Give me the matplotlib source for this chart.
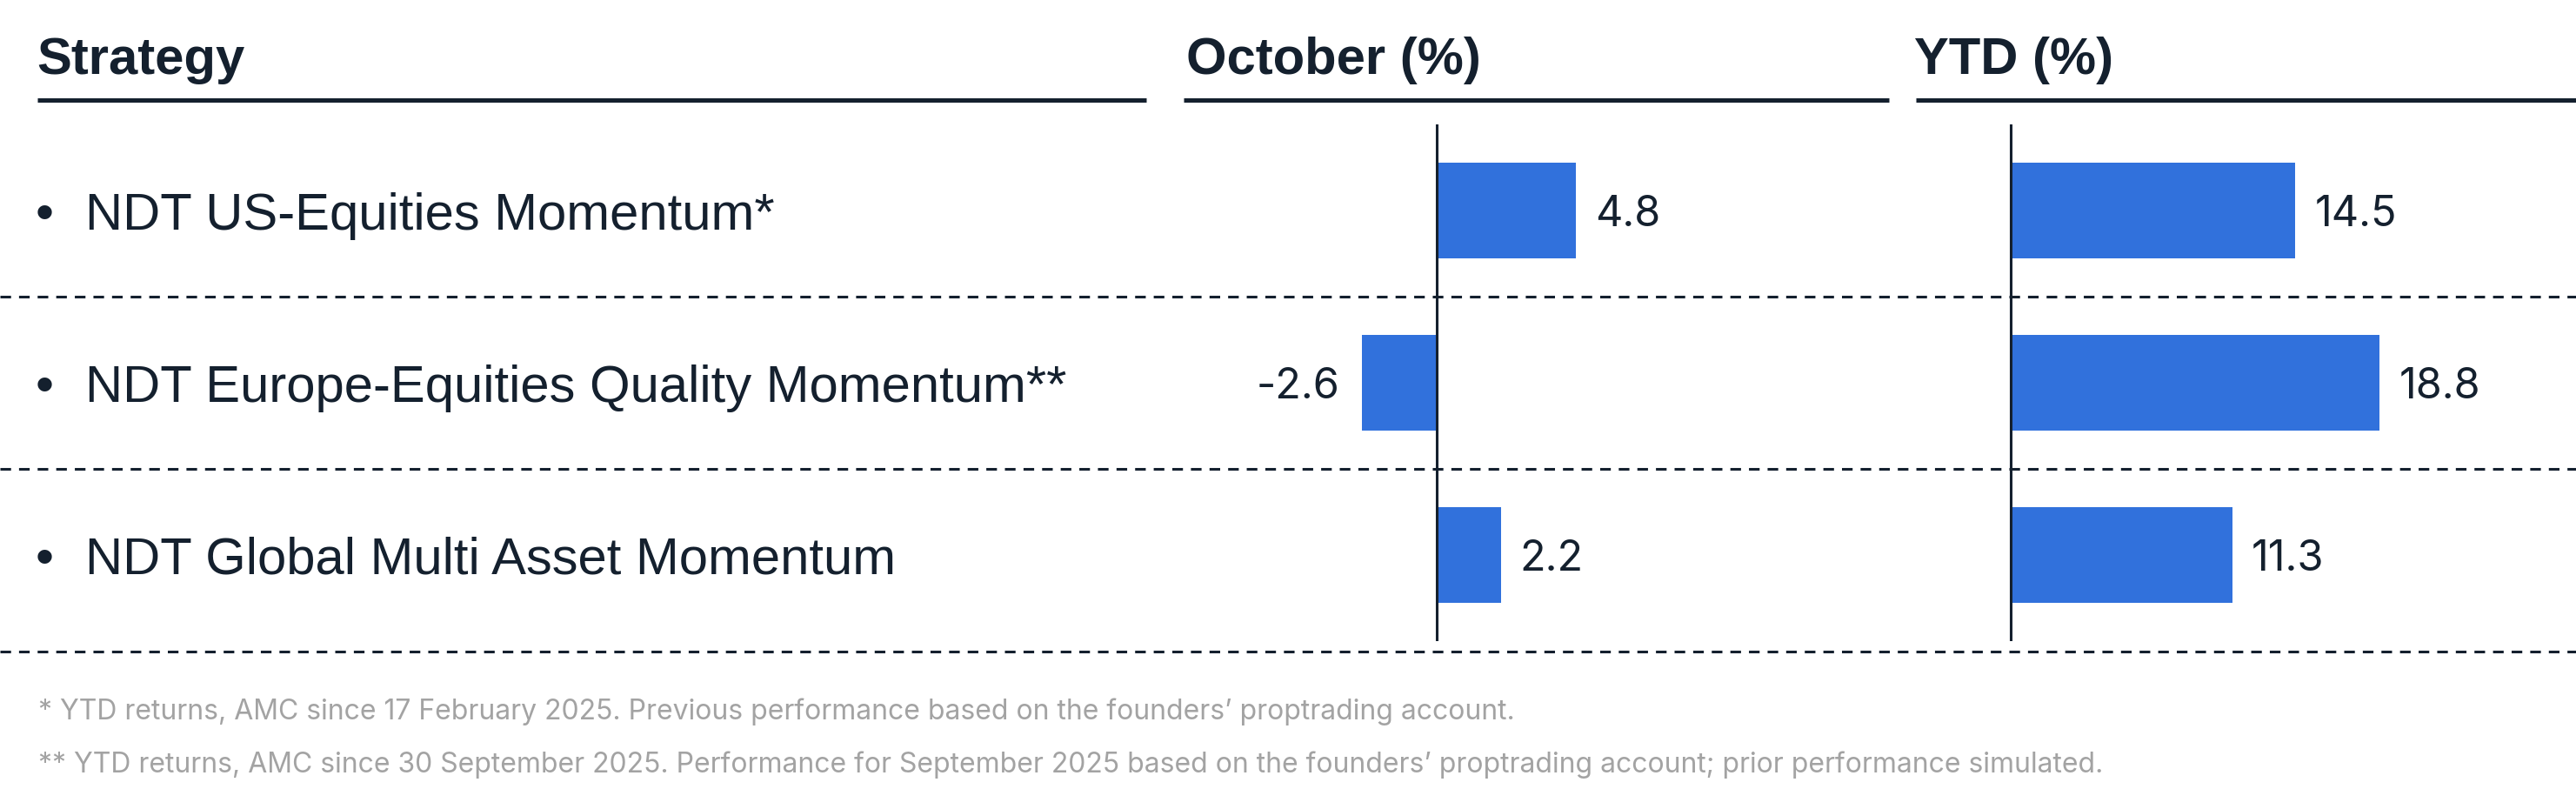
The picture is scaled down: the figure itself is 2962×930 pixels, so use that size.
import matplotlib.pyplot as plt
from matplotlib.lines import Line2D


# data
strategies = ['NDT US-Equities Momentum*',
              'NDT Europe-Equities Quality Momentum**',
              'NDT Global Multi Asset Momentum']
october = [4.8, -2.6, 2.2]
ytd = [14.5, 18.8, 11.3]
headers = ['Strategy', 'October (%)', 'YTD (%)']
footnotes = [
    '* YTD returns, AMC since 17 February 2025. Previous performance based on the founders\u2019 proptrading account.',
    '** YTD returns, AMC since 30 September 2025. Performance for September 2025 based on the founders\u2019 proptrading account; prior performance simulated.',
]

# style setting
W, H, DPI = 2962, 930, 100
NAVY = '#14202e'
BLUE = '#3171dc'
GREY = '#a3a3a3'
LABEL_FONT = ['Liberation Sans', 'DejaVu Sans']
NUM_FONT = ['Inter', 'DejaVu Sans']


def fx(px):
    return px / W


def fy(py):
    return 1 - py / H


def hline(x0, x1, y, lw):
    fig.add_artist(Line2D([fx(x0), fx(x1)], [fy(y), fy(y)], lw=lw,
                          color=NAVY, solid_capstyle='butt'))


fig = plt.figure(figsize=(W / DPI, H / DPI), dpi=DPI)

row_top, row_bot = 143, 737
n = len(strategies)
ylim = (n - 0.5, -0.5)

# background axes spanning the full width, x in pixels
ax_bg = fig.add_axes([0, fy(row_bot), 1, (row_bot - row_top) / H])
ax_bg.set_xlim(0, W)
ax_bg.set_ylim(*ylim)
ax_bg.axis('off')

for i, name in enumerate(strategies):
    ax_bg.annotate('\u2022', xy=(51, i), xytext=(0, -15.5), textcoords='offset points',
                   ha='center', va='baseline', fontsize=43, color=NAVY, family=LABEL_FONT)
    ax_bg.annotate(name, xy=(98, i), xytext=(0, -15.5), textcoords='offset points',
                   ha='left', va='baseline', fontsize=43, color=NAVY, family=LABEL_FONT)

for yy in [0.5, 1.5, n - 0.44]:
    ax_bg.axhline(yy, color=NAVY, lw=2.2, ls=(0, (4, 3)), dash_capstyle='butt',
                  clip_on=False)


def panel(x0, x1, xlim, values):
    ax = fig.add_axes([fx(x0), fy(row_bot), fx(x1 - x0), (row_bot - row_top) / H])
    ax.set_xlim(*xlim)
    ax.set_ylim(*ylim)
    ax.axis('off')
    ax.barh(range(n), values, height=0.556, color=BLUE)
    ax.axvline(0, color=NAVY, lw=2.2)
    for i, v in enumerate(values):
        ax.annotate(f'{v:.1f}', xy=(v, i), xytext=(16 if v >= 0 else -18, -12.8),
                    textcoords='offset points', ha='left' if v >= 0 else 'right',
                    va='baseline', fontsize=35, color=NAVY, family=NUM_FONT)
    return ax


ax_oct = panel(1361, 2172, (-8.74, 15.6), october)
ax_ytd = panel(2203, 2962, (-4.82, 28.8), ytd)

# headers
for x, txt in zip([42, 1364, 2201], headers):
    fig.text(fx(x), fy(85), txt, fontsize=43, fontweight='bold', color=NAVY,
             family=LABEL_FONT, va='baseline')
hline(43, 1318, 114.5, 3.6)
hline(1361, 2172, 114.5, 3.6)
hline(2203, 2962, 114.5, 3.6)

# footnotes
for y, txt in zip([827, 888], footnotes):
    fig.text(fx(44), fy(y), txt, fontsize=23, color=GREY, family=NUM_FONT, va='baseline')

plt.savefig('out.png', dpi=DPI)
